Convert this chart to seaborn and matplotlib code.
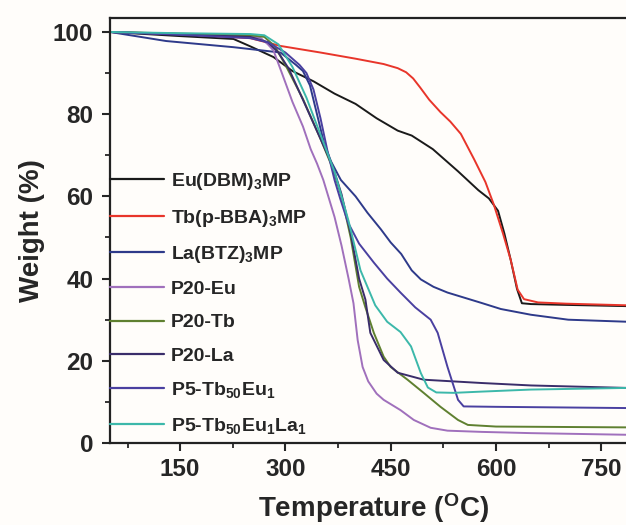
import matplotlib
matplotlib.use("Agg")
import matplotlib.pyplot as plt
import seaborn as sns
from matplotlib.ticker import MultipleLocator

# krzywe TGA (temperatura w C, masa w %)
eu_dbm_t = [50, 150, 226, 250, 283, 310, 340, 370, 400, 430, 460, 480, 510, 546, 575, 590, 603, 612, 621, 630, 637, 650, 700, 787]
eu_dbm_w = [100, 99.0, 98.3, 96.5, 93.9, 90.5, 88, 85, 82.5, 79, 76, 74.8, 71.5, 66.1, 61.5, 59.5, 56.5, 51, 44.6, 37.5, 34, 33.8, 33.6, 33.3]

tb_bba_t = [50, 150, 250, 293, 350, 400, 440, 460, 472, 482, 492, 505, 521, 535, 550, 569, 585, 597, 610, 621, 631, 640, 660, 700, 787]
tb_bba_w = [100, 99.5, 98.5, 96.6, 95, 93.5, 92.2, 91.2, 90.2, 88.7, 86.5, 83.5, 80.5, 78.2, 75.2, 69, 63.5, 58, 51, 44.6, 37.3, 35, 34.2, 33.9, 33.5]

la_btz_t = [50, 130, 226, 293, 315, 325, 335, 345, 355, 365, 379, 400, 417, 436, 450, 465, 480, 493, 511, 531, 579, 607, 650, 703, 787]
la_btz_w = [100, 97.8, 96.3, 95, 92, 90.5, 87, 80, 73, 68.5, 64, 60, 56, 52, 48.8, 46, 42, 39.8, 38, 36.6, 34.1, 32.6, 31.2, 30, 29.5]

p20_eu_t = [50, 150, 250, 265, 275, 283, 295, 310, 325, 336, 345, 354, 370, 380, 390, 397, 403, 410, 418, 430, 440, 464, 483, 507, 531, 580, 650, 787]
p20_eu_w = [100, 99.5, 99, 98.5, 97, 95.5, 90, 83, 77, 71.5, 68, 64, 55, 48, 40, 34, 25, 18.5, 15, 12, 10.5, 8, 5.6, 3.7, 3.0, 2.7, 2.4, 2.0]

p20_tb_t = [50, 150, 250, 270, 285, 300, 325, 350, 367, 380, 393, 405, 414, 426, 440, 450, 474, 497, 521, 546, 560, 600, 787]
p20_tb_w = [100, 99.6, 99.2, 98.8, 96.5, 92, 83.7, 74, 67, 60, 50, 38, 33, 26.8, 21, 18.5, 15.4, 12.2, 8.8, 5.6, 4.4, 4.0, 3.8]

p20_la_t = [50, 150, 250, 275, 290, 305, 325, 350, 367, 380, 393, 405, 414, 421, 440, 460, 497, 579, 650, 787]
p20_la_w = [100, 99.4, 98.8, 97.5, 95, 91, 83.5, 74, 67.5, 60.5, 51, 40, 34.9, 26.8, 20.2, 17.1, 15.4, 14.6, 14.0, 13.4]

p5_tbeu_t = [50, 150, 250, 275, 300, 320, 330, 340, 350, 360, 370, 378, 389, 405, 426, 445, 464, 485, 507, 517, 531, 546, 554, 600, 787]
p5_tbeu_w = [100, 99.3, 98.5, 97.5, 95, 92, 90, 86, 79, 71, 64, 59.5, 53.7, 48.5, 43.9, 40, 36.6, 33, 30, 26.8, 18.5, 10.5, 8.9, 8.8, 8.5]

p5_tbeula_t = [50, 150, 250, 270, 290, 310, 330, 350, 370, 390, 407, 428, 445, 464, 479, 493, 503, 515, 540, 579, 650, 787]
p5_tbeula_w = [100, 99.7, 99.5, 99.2, 97, 91.5, 84, 75, 66, 54, 42, 33.5, 29.5, 27, 23.5, 17, 13.5, 12.3, 12.2, 12.5, 13, 13.4]

labels = [
    "Eu(DBM)$_3$MP",
    "Tb(p-BBA)$_3$MP",
    "La(BTZ)$_3$MP",
    "P20-Eu",
    "P20-Tb",
    "P20-La",
    "P5-Tb$_{50}$Eu$_1$",
    "P5-Tb$_{50}$Eu$_1$La$_1$",
]
colors = ["#1a1a1a", "#e8352a", "#2e3a8a", "#a070bc", "#5f8030", "#3a2d6a", "#4a40a0", "#3cb8aa"]

series = [
    (eu_dbm_t, eu_dbm_w),
    (tb_bba_t, tb_bba_w),
    (la_btz_t, la_btz_w),
    (p20_eu_t, p20_eu_w),
    (p20_tb_t, p20_tb_w),
    (p20_la_t, p20_la_w),
    (p5_tbeu_t, p5_tbeu_w),
    (p5_tbeula_t, p5_tbeula_w),
]

sns.set_theme(style="ticks")
plt.rcParams["font.family"] = ["Liberation Sans", "DejaVu Sans"]
plt.rcParams["font.weight"] = "bold"
plt.rcParams["mathtext.fontset"] = "custom"
plt.rcParams["mathtext.rm"] = "Liberation Sans:bold"
plt.rcParams["mathtext.it"] = "Liberation Sans:bold"
plt.rcParams["mathtext.bf"] = "Liberation Sans:bold"
plt.rcParams["mathtext.default"] = "rm"

fig = plt.figure(figsize=(6.26, 5.25), dpi=100, facecolor="#fffdfa")
ax = fig.add_axes([0.1757, 0.1562, 0.8407, 0.8095])
ax.set_facecolor("#fffdfa")

for (t, w), lab, col in zip(series, labels, colors):
    sns.lineplot(x=t, y=w, ax=ax, color=col, label=lab, linewidth=1.4, sort=False, estimator=None)

ax.set_xlim(50, 800)
ax.set_ylim(0, 103.4)
ax.xaxis.set_major_locator(MultipleLocator(150))
ax.xaxis.set_minor_locator(MultipleLocator(75))
ax.yaxis.set_major_locator(MultipleLocator(20))
ax.yaxis.set_minor_locator(MultipleLocator(10))
ax.set_xticks([150, 300, 450, 600, 750])

ax.tick_params(axis="both", which="major", direction="out", length=6, width=1.5, labelsize=17.5)
ax.tick_params(axis="x", which="major", pad=5)
ax.tick_params(axis="y", which="major", pad=6)
ax.tick_params(axis="both", which="minor", direction="out", length=3.5, width=1.3)
ax.tick_params(top=False, right=False, which="both")
for lbl in ax.get_xticklabels() + ax.get_yticklabels():
    lbl.set_fontweight("bold")

for side in ["left", "bottom", "top"]:
    ax.spines[side].set_linewidth(1.6)
    ax.spines[side].set_color("#222222")
ax.spines["right"].set_visible(False)

ax.set_xlabel("Temperature ($^\\mathrm{O}$C)", fontsize=20, fontweight="bold", labelpad=7)
ax.set_ylabel("Weight (%)", fontsize=20, fontweight="bold", labelpad=6)

leg = ax.legend(loc="upper left", bbox_to_anchor=(0.0, 0.64), frameon=False, fontsize=14,
                handlelength=2.8, handletextpad=0.35, labelspacing=0.8, borderpad=0, borderaxespad=0)
for line in leg.get_lines():
    line.set_linewidth(1.6)

fig.savefig("out.png", dpi=100, facecolor=fig.get_facecolor())
